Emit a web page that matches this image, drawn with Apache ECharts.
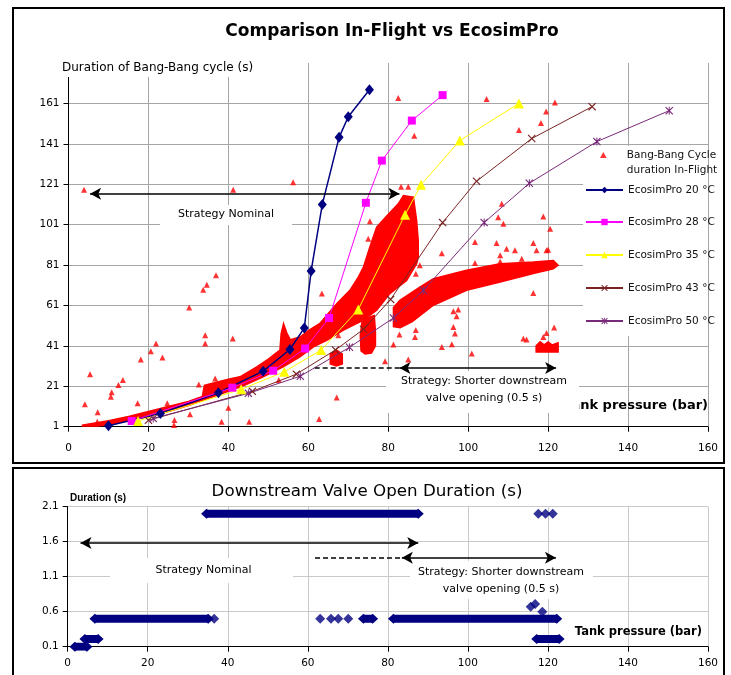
<!DOCTYPE html>
<html><head><meta charset="utf-8">
<script src="https://cdn.jsdelivr.net/npm/echarts@6/dist/echarts.min.js"></script>
<style>html,body{margin:0;padding:0;background:#fff}#c{width:731px;height:675px}</style>
</head><body><div id="c"></div>
<script>
// ---------- data ----------
const seriesNames = ['Bang-Bang Cycle duration In-Flight','EcosimPro 20 °C','EcosimPro 28 °C','EcosimPro 35 °C','EcosimPro 43 °C','EcosimPro 50 °C'];
const eco20 = [[10,1.5],[23,7.5],[37.5,17.8],[48.7,28.5],[55.4,39.2],[59,49.9],[60.7,78],[63.5,111],[67.7,144.2],[70,154.4],[75.3,167.8]];
const eco28 = [[15.8,3.8],[41,20.3],[51.2,28.7],[59.2,39.7],[65.2,54.8],[74.4,111.8],[78.4,132.7],[85.9,152.5],[93.6,165.1]];
const eco35 = [[17.4,3.8],[43.2,19.5],[54,28.2],[63.2,38.9],[72.5,59],[84.2,105.9],[88.2,120.7],[97.9,142.6],[112.7,161]];
const eco43 = [[20,4.2],[46,18.5],[57,27],[66.8,39],[73.8,49.2],[80.6,64],[93.6,102],[102.1,122.5],[115.9,143.6],[131,159.4]];
const eco50 = [[21.2,5.1],[45,17.5],[58,26],[70.3,40.3],[81.3,54.8],[88.8,68.5],[104,102],[115.3,121.5],[132.2,142.1],[150.3,157.4]];
// isolated in-flight points
const flightPoints = [[3.9,118.3],[41.2,118.3],[56.2,122],[75.4,102.7],[82.5,163.7],[104.6,163.2],[121.7,161.5],[119.5,157],[118.2,151.3],[112.7,147.9],[86.5,145],[83.2,119.8],[85,119.8],[108.4,111.3],[107.5,104.7],[108.8,101.4],[118.8,105],[120.5,99],[101.7,92.4],[107.1,91.9],[116.3,91.9],[120,88.6],[93.4,86.8],[109.6,89.1],[111.7,88.3],[87.9,80.9],[101.7,82],[117.1,88.3],[119.6,88.3],[108,85.8],[108,82.8],[113.4,84.1],[86.9,76.7],[116.3,67.2],[96.3,58.1],[97.5,59],[97.1,55.7],[96.3,50.4],[96.7,47.1],[86.9,48.8],[93.4,40.5],[95.9,41.8],[100.9,37.2],[113.8,44.6],[114.6,44.2],[118.8,45.4],[119.6,47.4],[121.5,50.1],[84.6,62.2],[81.3,41.7],[79.2,33.4],[85,34.3],[82.8,46.6],[75,94],[63.4,66.9],[67.5,46.3],[86.7,45.4],
  [4.1,12.1],[5.4,26.9],[7.3,8.1],[10.8,18],[10.6,15.8],[12.5,21.6],[13.6,24.1],[17.3,12.6],[18.1,34.3],[20.6,38.4],[21.9,42.2],[23.5,35.3],[24.7,12.6],[26.5,4.3],[26.4,1.8],[30.2,60],[30.4,7.1],[32.6,21.9],[33.7,68.8],[34.6,71.3],[36.9,75.9],[34.2,46.3],[34.2,42.2],[41.1,44.7],[40,10.4],[38.3,3.5],[45.2,3.5],[52.6,24.1],[62.7,4.8],[67.1,15.5],[7.2,3.5],[36.7,24.9]];
// dense in-flight clouds (outline)
const cloudMain = [[3.5,0.6],[3.5,1.8],[10,4],[15,6],[20,8.5],[25,11],[30,13.5],[33.5,16],[34,21.5],[37,23],[40,24.5],[42.9,25.7],[47.1,30.6],[50,34.5],[52.9,38.9],[53.2,47],[53.8,52],[54.6,47.5],[55.5,44],[57.9,45.4],[60,48.5],[62.9,52.1],[65,57],[67.1,61.9],[70.4,68.5],[72.5,75],[73.8,80],[75.4,89.9],[77.1,99.8],[79.5,105],[82.5,111.3],[83.8,115.4],[86.3,114.6],[87.1,103],[87.5,93.2],[87.5,84.9],[87.1,81.7],[84.6,73.4],[80.4,66.9],[77.1,58.6],[73.8,53.7],[68.8,48.8],[64.6,43.8],[61.3,40.5],[57.9,35.6],[53.7,30.6],[48.7,25.7],[44,21.5],[40,18.5],[35,15],[30,11.5],[25,8.5],[20,6],[15,4],[10,2],[5,0.6]];
const cloudLower = [[81.3,50.5],[81.3,60],[82.9,63.5],[87.9,70.1],[91.3,74.3],[99.6,78.4],[108,81.7],[116.3,82.5],[121.3,83.3],[122.5,81],[121.3,79.2],[116.3,76.8],[108,72.6],[99.6,68.5],[91.3,61.1],[86,53],[83,50]];
const cloudBlobA = [[73.2,38.5],[73,46],[73.5,54],[76.5,56],[76.8,48],[76.8,41],[75.8,37.5],[74.2,37]];
const cloudBlobB = [[65.5,32],[65.5,37],[67,39],[68.5,37],[68.5,32],[67,31]];
const cloudBlobD = [[117,38],[117,41],[118,43],[119,41.5],[120,43],[121,41.5],[122.5,42.5],[122.5,38]];
const flightClouds = [cloudMain, cloudLower, cloudBlobA, cloudBlobB, cloudBlobD];
// strategy annotations (top panel, data coords)
const topNominalArrow = [[5.4,116.3],[82.8,116.3]];
const topShortDash = [[61.6,30],[82.8,30]];
const topShortArrow = [[82.8,30],[122,30]];
// bottom panel: valve open duration
const valveRuns = [[1.8,4.8,0.1],[4.3,7.6,0.21],[6.8,35.1,0.5],[34.7,87.6,2.0],[73.9,76.2,0.5],[81.4,122.2,0.5],[117.2,122.8,0.21]];
const valvePoints = [[36.6,0.5],[63.1,0.5],[65.8,0.5],[67.6,0.5],[70.1,0.5],[115.7,0.67],[116.8,0.71],[118.6,0.6],[117.6,2.0],[119.4,2.0],[121.2,2.0]];
const botNominalArrow = [[3.2,1.58],[87.6,1.58]];
const botShortDash = [[61.8,1.37],[83.5,1.37]];
const botShortArrow = [[83.5,1.37],[122,1.37]];
// axes
const xMin = 0, xMax = 160, xStep = 20;
const topYMin = 1, topYMax = 181, topYStep = 20;
const botYMin = 0.1, botYMax = 2.1, botYStep = 0.5;

// ---------- chart ----------
const FF = 'DejaVu Sans';
const chart = echarts.init(document.getElementById('c'), null, {renderer:'canvas'});
const xSym = 'path://M0,1L1,0L5,4L9,0L10,1L6,5L10,9L9,10L5,6L1,10L0,9L4,5Z';
const starSym = 'path://M0,1L1,0L5,4L9,0L10,1L6,5L10,9L9,10L5,6L1,10L0,9L4,5Z M4.4,0L5.6,0L5.6,10L4.4,10Z';

function axisX(gi, margin, gridColor){
  return {type:'value', gridIndex:gi, min:xMin, max:xMax, interval:xStep,
    axisLine:{show:true, onZero:false, lineStyle:{color:'#000', width:1}},
    axisTick:{show:true, inside:false, length:5, lineStyle:{color:'#000'}},
    axisLabel:{margin:margin, color:'#000', fontSize:10.5, fontFamily:FF},
    splitLine:{show:true, lineStyle:{color:gridColor, width:1}}};
}
function mk(pair, dashed, arrows){
  return [{coord:pair[0], symbol: arrows ? 'arrow' : 'none', lineStyle:{type: dashed ? [5,3] : 'solid', color:'#000', width:1.5}},
          {coord:pair[1], symbol: arrows ? 'arrow' : 'none'}];
}
const markLineBase = {silent:true, animation:false, symbolSize:[9,11], label:{show:false}, lineStyle:{color:'#000', width:1.5}};

const series = [
  {type:'custom', name:'clouds', xAxisIndex:0, yAxisIndex:0, silent:true, clip:true,
   data: flightClouds.map(c => [c[0][0], c[0][1]]),
   renderItem: (params, api) => ({type:'polygon', shape:{points: flightClouds[params.dataIndex].map(p => api.coord(p))},
      style:{fill:'#ff0000', stroke:'#ff0000', lineWidth:1.5}})},
  {type:'scatter', name:seriesNames[0], xAxisIndex:0, yAxisIndex:0, data:flightPoints, symbol:'triangle', symbolSize:6,
   itemStyle:{color:'#ff0000'}, silent:true,
   markLine:Object.assign({}, markLineBase, {data:[mk(topNominalArrow,false,true), mk(topShortDash,true,false), mk(topShortArrow,false,true)]})},
  {type:'line', name:seriesNames[1], xAxisIndex:0, yAxisIndex:0, data:eco20, symbol:'diamond', symbolSize:[9,11],
   lineStyle:{color:'#000080', width:1.5}, itemStyle:{color:'#000080'}},
  {type:'line', name:seriesNames[2], xAxisIndex:0, yAxisIndex:0, data:eco28, symbol:'rect', symbolSize:8,
   lineStyle:{color:'#ff00ff', width:1}, itemStyle:{color:'#ff00ff'}},
  {type:'line', name:seriesNames[3], xAxisIndex:0, yAxisIndex:0, data:eco35, symbol:'triangle', symbolSize:10,
   lineStyle:{color:'#ffff00', width:1}, itemStyle:{color:'#ffff00'}},
  {type:'line', name:seriesNames[4], xAxisIndex:0, yAxisIndex:0, data:eco43, symbol:xSym, symbolSize:8,
   lineStyle:{color:'#7a2323', width:1}, itemStyle:{color:'#7a2323'}},
  {type:'line', name:seriesNames[5], xAxisIndex:0, yAxisIndex:0, data:eco50, symbol:starSym, symbolSize:8,
   lineStyle:{color:'#7a2a7a', width:1}, itemStyle:{color:'#7a2a7a'}},
];
valveRuns.forEach((r, i) => {
  series.push({type:'line', name:'valveRun'+i, xAxisIndex:1, yAxisIndex:1, data:[[r[0], r[2]], [r[1], r[2]]],
    symbol:'diamond', symbolSize:[11,10], showAllSymbol:true, lineStyle:{color:'#000080', width:8}, itemStyle:{color:'#000080'}, silent:true});
});
series.push({type:'scatter', name:'valvePoints', xAxisIndex:1, yAxisIndex:1, data:valvePoints, symbol:'diamond', symbolSize:[10,10],
  itemStyle:{color:'#000080'}, silent:true,
  markLine:Object.assign({}, markLineBase, {data:[mk(botNominalArrow,false,true), mk(botShortDash,true,false), mk(botShortArrow,false,true)]})});

const legendCenters = [155, 190, 222, 255, 288, 321];
const LH0 = 15.6;
const legends = seriesNames.map((n, i) => {
  const first = i === 0;
  return {show:true, orient:'vertical', left: first ? 600 : 585, top: first ? legendCenters[0] - 2.5 * LH0 : legendCenters[i] - 6.5,
    padding:0, itemWidth:37, itemHeight: first ? 6 : 8, itemGap:0, selectedMode:false, data:[n],
    icon: first ? 'path://M5,0L10,9L0,9Z' : undefined, symbolKeepAspect:true,
    formatter: first ? '\n\nBang-Bang Cycle\nduration In-Flight\n' : '{name}',
    textStyle: first ? {fontSize:10.5, fontFamily:FF, color:'#111', lineHeight:LH0}
                     : {fontSize:10.5, fontFamily:FF, color:'#111', lineHeight:13}};
});

const option = {
  animation:false,
  backgroundColor:'#fff',
  textStyle:{fontFamily:FF},
  grid:[
    {left:68.5, top:63, width:639.5, height:363.7, containLabel:false},
    {left:67.7, top:506.7, width:640.3, height:140, containLabel:false}
  ],
  xAxis:[axisX(0, 16, '#a6a6a6'), axisX(1, 11, '#c9c9c9')],
  yAxis:[
    {type:'value', gridIndex:0, min:topYMin, max:topYMax, interval:topYStep,
     axisLine:{show:true, onZero:false, lineStyle:{color:'#000'}},
     axisTick:{show:true, length:5, lineStyle:{color:'#000'}},
     axisLabel:{margin:9, color:'#000', fontSize:10.5, fontFamily:FF, showMaxLabel:false},
     splitLine:{show:true, showMaxLine:false, lineStyle:{color:'#a6a6a6'}}},
    {type:'value', gridIndex:1, min:botYMin, max:botYMax, interval:botYStep,
     axisLine:{show:true, onZero:false, lineStyle:{color:'#000'}},
     axisTick:{show:true, length:5, lineStyle:{color:'#000'}},
     axisLabel:{margin:9, color:'#000', fontSize:10.5, fontFamily:FF, formatter: v => v.toFixed(1)},
     splitLine:{show:true, lineStyle:{color:'#c9c9c9'}}}
  ],
  legend: legends,
  series: series,
  graphic:[
    // white boxes behind texts / legend (above grid lines, below series)
    {type:'rect', z:1, silent:true, shape:{x:60, y:58, width:197, height:19}, style:{fill:'#fff'}},
    {type:'rect', z:1, silent:true, shape:{x:583, y:146, width:125, height:190}, style:{fill:'#fff'}},
    {type:'rect', z:1, silent:true, shape:{x:160, y:205, width:132, height:20}, style:{fill:'#fff'}},
    {type:'rect', z:1.5, silent:true, shape:{x:386, y:371, width:193, height:42}, style:{fill:'#fff'}},
    {type:'rect', z:1, silent:true, shape:{x:110, y:558, width:183, height:25}, style:{fill:'#fff'}},
    {type:'rect', z:1, silent:true, shape:{x:410, y:561, width:183, height:38}, style:{fill:'#fff'}},
    // texts
    {type:'text', z:3, silent:true, x:392, y:31.5, style:{text:'Comparison In-Flight vs EcosimPro', fill:'#000', font:'bold 17px "DejaVu Sans"', align:'center', verticalAlign:'middle'}},
    {type:'text', z:3, silent:true, x:62, y:68, style:{text:'Duration of Bang-Bang cycle (s)', fill:'#000', font:'12px "DejaVu Sans"', align:'left', verticalAlign:'middle'}},
    {type:'text', z:1.2, silent:true, x:708, y:406, style:{text:'Tank pressure (bar)', fill:'#000', font:'bold 13px "DejaVu Sans"', align:'right', verticalAlign:'middle'}},
    {type:'text', z:3, silent:true, x:226, y:214.5, style:{text:'Strategy Nominal', fill:'#000', font:'11px "DejaVu Sans"', align:'center', verticalAlign:'middle'}},
    {type:'text', z:3, silent:true, x:484, y:389.5, style:{text:'Strategy: Shorter downstream\nvalve opening (0.5 s)', fill:'#000', font:'11px "DejaVu Sans"', lineHeight:17, align:'center', verticalAlign:'middle'}},
    {type:'text', z:3, silent:true, x:367, y:491.5, style:{text:'Downstream Valve Open Duration (s)', fill:'#000', font:'16.7px "DejaVu Sans"', align:'center', verticalAlign:'middle'}},
    {type:'text', z:3, silent:true, x:70, y:498, style:{text:'Duration (s)', fill:'#000', font:'bold 10px "Liberation Sans"', align:'left', verticalAlign:'middle'}},
    {type:'text', z:3, silent:true, x:702, y:632, style:{text:'Tank pressure (bar)', fill:'#000', font:'bold 11.5px "DejaVu Sans"', align:'right', verticalAlign:'middle'}},
    {type:'text', z:3, silent:true, x:203.5, y:570.5, style:{text:'Strategy Nominal', fill:'#000', font:'11px "DejaVu Sans"', align:'center', verticalAlign:'middle'}},
    {type:'text', z:3, silent:true, x:501, y:580.5, style:{text:'Strategy: Shorter downstream\nvalve opening (0.5 s)', fill:'#000', font:'11px "DejaVu Sans"', lineHeight:17.6, align:'center', verticalAlign:'middle'}},
    // panel frames
    {type:'rect', z:10, silent:true, shape:{x:13, y:8, width:711, height:455}, style:{fill:'none', stroke:'#000', lineWidth:2}},
    {type:'rect', z:10, silent:true, shape:{x:13, y:468, width:711, height:230}, style:{fill:'none', stroke:'#000', lineWidth:2}}
  ]
};
chart.setOption(option);
</script></body></html>
